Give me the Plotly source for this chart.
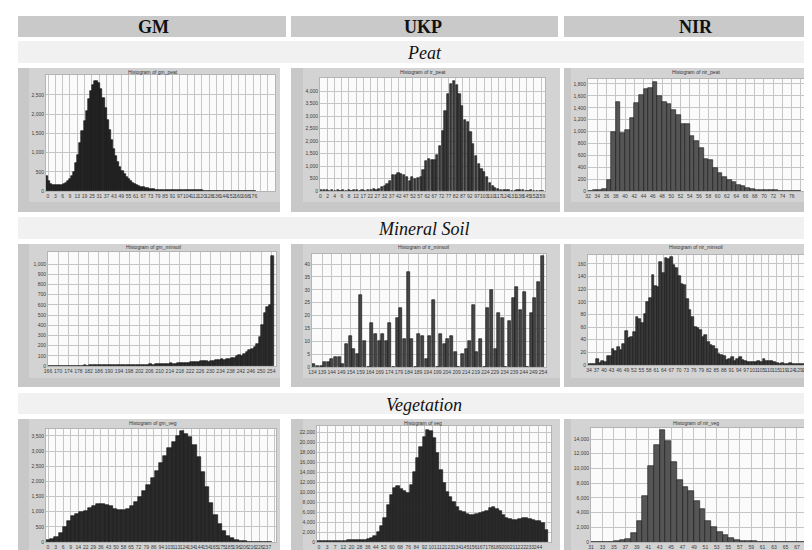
import numpy as np
import plotly.graph_objects as go

W, H = 812, 550

# ---------------- data ----------------
column_titles = ["GM", "UKP", "NIR"]
section_titles = ["Peat", "Mineral Soil", "Vegetation"]

chart_titles = [
    "Histogram of gm_peat", "Histogram of tr_peat", "Histogram of nir_peat",
    "Histogram of gm_minsoil", "Histogram of tr_minsoil", "Histogram of nir_minsoil",
    "Histogram of gm_veg", "Histogram of veg", "Histogram of nir_veg",
]

# GM / Peat
gm_peat_counts = [390, 260, 190, 160, 150, 145, 150, 165, 190, 220,
                  260, 310, 390, 490, 720, 950, 1250, 1550, 1820, 2080,
                  2400, 2600, 2750, 2870, 2860, 2800, 2650, 2420, 2150, 1850,
                  1580, 1320, 1100, 900, 760, 620, 520, 440, 370, 310,
                  260, 220, 190, 160, 135, 115, 95, 80, 68, 58,
                  50, 44, 39, 35, 32, 30, 28, 26, 25, 24,
                  23, 22, 21, 20, 19, 19, 18, 18, 17, 16,
                  16, 15, 15, 14, 14, 13, 13, 12, 12, 12,
                  11, 11, 11, 10, 10, 10, 10, 9, 9, 9,
                  9, 9, 8, 8, 8, 8, 8, 8, 7, 7]
gm_peat_xlabels = ["0", "3", "6", "9", "13", "19", "25", "31", "37", "43", "49", "55", "61", "67",
                   "73", "79", "85", "91", "97", "104", "112", "120", "128", "136", "144", "152",
                   "160", "168", "176"]
gm_peat_yticks = [0, 500, 1000, 1500, 2000, 2500]

# UKP / Peat
ukp_peat_counts = [30, 30, 30, 20, 30, 20, 30, 20, 30, 20,
                   30, 20, 30, 30, 20, 30, 20, 40, 60, 80,
                   60, 100, 150, 220, 280, 420, 630, 650, 720, 700,
                   640, 580, 420, 560, 480, 520, 550, 850, 1200, 1300,
                   1250, 1230, 1450, 1820, 2400, 3200, 3900, 4300, 4400, 4250,
                   3900, 3400, 2850, 2750, 2350, 1900, 1400, 1100, 900, 750,
                   550, 330, 200, 120, 70, 60, 40, 40, 30, 20,
                   20, 40, 50, 30, 20, 20, 30, 20, 20, 20,
                   20]
ukp_peat_xlabels = ["0", "2", "4", "6", "8", "12", "17", "22", "27", "32", "37", "42", "47", "52",
                    "57", "62", "67", "72", "77", "82", "87", "92", "97", "103", "110", "117",
                    "124", "131", "138", "145", "152", "159"]
ukp_peat_yticks = [0, 500, 1000, 1500, 2000, 2500, 3000, 3500, 4000]

# NIR / Peat  (bins 32..77)
nir_peat_bins = list(range(32, 78))
nir_peat_counts = [5, 10, 10, 30, 180, 1000, 1500, 970, 1030, 1220,
                   1480, 1610, 1720, 1740, 1840, 1600, 1500, 1470, 1370, 1280,
                   1120, 1130, 920, 840, 730, 540, 520, 380, 300, 230,
                   180, 150, 100, 90, 50, 30, 20, 20, 15, 10,
                   10, 5, 5, 5, 5, 5]
nir_peat_xlabels = ["32", "34", "36", "38", "40", "42", "44", "46", "48", "50", "52", "54",
                    "56", "58", "60", "62", "64", "66", "68", "70", "72", "74", "76"]
nir_peat_yticks = [0, 200, 400, 600, 800, 1000, 1200, 1400, 1600, 1800]

# GM / Mineral soil (bins 166..254)
gm_min_bins = list(range(166, 255))
gm_min_counts = [2, 2, 3, 2, 3, 2, 3, 3, 2, 3,
                 3, 4, 3, 4, 5, 4, 5, 5, 6, 5,
                 12, 10, 8, 6, 6, 7, 8, 7, 8, 9,
                 9, 10, 11, 10, 12, 11, 13, 12, 14, 13,
                 15, 14, 16, 18, 17, 19, 20, 22, 25, 21,
                 23, 25, 27, 30, 28, 32, 35, 38, 36, 40,
                 45, 50, 48, 42, 45, 50, 55, 60, 65, 62,
                 68, 72, 75, 80, 95, 110, 100, 120, 140, 160,
                 170, 190, 220, 280, 400, 520, 580, 600, 1080]
gm_min_xlabels = ["166", "170", "174", "178", "182", "186", "190", "194", "198", "202", "206",
                  "210", "214", "218", "222", "226", "230", "234", "238", "242", "246", "250",
                  "254"]
gm_min_yticks = [0, 100, 200, 300, 400, 500, 600, 700, 800, 900, 1000]

# UKP / Mineral soil
ukp_min_counts = [1, 0.3, 0.3, 2, 2, 3, 4, 4, 1, 9,
                  12, 7, 5, 28, 10, 0, 17, 13, 10, 13,
                  10, 17, 0, 19, 23, 11, 37, 11, 0, 13,
                  12, 3, 12, 26, 0, 13, 9, 11, 12, 6,
                  0, 5, 7, 10, 24, 6, 11, 0, 23, 30,
                  7, 21, 19, 0, 18, 27, 31, 22, 29, 0,
                  21, 27, 33, 43]
ukp_min_xlabels = ["134", "139", "144", "149", "154", "159", "164", "169", "174", "179", "184",
                   "189", "194", "199", "204", "209", "214", "219", "224", "229", "234", "239",
                   "244", "249", "254"]
ukp_min_yticks = [0, 5, 10, 15, 20, 25, 30, 35, 40]

# NIR / Mineral soil
nir_min_counts = [2, 2, 2, 10, 3, 6, 5, 15, 14, 26,
                  22, 28, 23, 33, 54, 43, 45, 52, 76, 72,
                  66, 80, 100, 106, 142, 125, 124, 163, 145, 170,
                  168, 171, 158, 153, 141, 128, 127, 105, 87, 76,
                  60, 58, 55, 44, 47, 36, 32, 30, 25, 18,
                  16, 15, 8, 9, 12, 6, 10, 12, 8, 7,
                  5, 4, 4, 4, 7, 5, 9, 6, 7, 6,
                  4, 3, 2, 3, 2, 2, 3, 2, 1, 2,
                  1, 2, 1, 1, 3]
nir_min_xlabels = ["34", "37", "40", "43", "46", "49", "52", "55", "58", "61", "64", "67", "70",
                   "73", "76", "79", "82", "85", "88", "91", "94", "97", "101", "105", "110",
                   "115", "119", "124", "129", "134"]
nir_min_yticks = [0, 20, 40, 60, 80, 100, 120, 140, 160]

# GM / Vegetation
gm_veg_counts = [60, 90, 150, 300, 480, 700, 850, 920, 980, 1030,
                 1120, 1180, 1260, 1270, 1230, 1180, 1100, 1060, 1050, 1100,
                 1200, 1330, 1500, 1700, 1880, 2100, 2350, 2600, 2850, 3100,
                 3300, 3500, 3650, 3550, 3450, 3200, 2800, 2300, 1800, 1300,
                 900, 600, 350, 200, 120, 70, 40, 25, 15, 10,
                 8, 6, 5, 5]
gm_veg_xlabels = ["0", "3", "6", "9", "14", "22", "29", "36", "43", "50", "58", "65", "72", "79",
                  "86", "94", "103", "113", "124", "134", "144", "154", "165", "175", "185",
                  "196", "206", "216", "226", "237"]
gm_veg_yticks = [0, 500, 1000, 1500, 2000, 2500, 3000, 3500]

# UKP / Vegetation
ukp_veg_counts = [300, 300, 300, 300, 300, 300, 300, 300, 300, 350,
                  400, 450, 400, 450, 500, 600, 800, 1200, 2000, 3200,
                  4800, 7500, 9500, 10800, 11200, 10600, 10300, 9800, 11500, 14000,
                  16800, 19000, 21000, 22500, 22200, 20800, 17800, 14500, 11800, 10000,
                  9000, 8000, 7000, 6300, 6000, 5700, 5400, 5400, 5600, 5900,
                  6000, 6300, 6800, 7000, 6700, 6200, 5500, 4800, 4600, 4500,
                  4500, 4700, 4900, 4900, 4700, 4400, 4200, 4300, 3800, 2500]
ukp_veg_xlabels = ["0", "3", "7", "12", "20", "28", "36", "44", "52", "60", "68", "76", "84",
                   "92", "101", "112", "123", "134", "145", "156", "167", "178", "189", "200",
                   "211", "222", "233", "244"]
ukp_veg_yticks = [0, 2000, 4000, 6000, 8000, 10000, 12000, 14000, 16000, 18000, 20000, 22000]

# NIR / Vegetation (bins 31..68)
nir_veg_bins = list(range(31, 69))
nir_veg_counts = [20, 20, 30, 40, 80, 230, 450, 1220, 2900, 6200,
                  10300, 13200, 15200, 13700, 10900, 8400, 7500, 7000, 5600, 4500,
                  2800, 2100, 1350, 900, 600, 300, 200, 120, 80, 50,
                  40, 30, 25, 20, 20, 15, 15, 10]
nir_veg_xlabels = ["31", "33", "35", "37", "39", "41", "43", "45", "47", "49", "51", "53", "55",
                   "57", "59", "61", "63", "65", "67", "69"]
nir_veg_yticks = [0, 2000, 4000, 6000, 8000, 10000, 12000, 14000]

# ---------------- layout geometry (pixels) ----------------
col_cells = [(10, 272), (283, 552), (556, 812)]
col_frames = [(21, 272), (295, 552), (563, 812)]
col_headers = [(10, 278), (283, 550), (556, 812)]
row_cells = [(60, 204), (236, 379), (411, 550)]
row_frames = [(60, 194), (236, 370), (411, 545)]
section_rows = [(33, 55), (209, 231), (385, 406)]
title_cx = [145, 415, 688]

charts = [
    dict(counts=gm_peat_counts, xl=gm_peat_xlabels, yt=gm_peat_yticks, ymax=3020,
         L=38, R=267, T=67, B=183, bL=37.7, bR=248, tL=40, tR=245,
         fill="#262626", line="#0d0d0d", bw=1.0),
    dict(counts=ukp_peat_counts, xl=ukp_peat_xlabels, yt=ukp_peat_yticks, ymax=4520,
         L=312, R=537, T=70, B=183, bL=311.7, bR=535.8, tL=312.5, tR=533,
         fill="#3a3a3a", line="#111111", bw=0.8),
    dict(counts=nir_peat_counts, bins=nir_peat_bins, xl=nir_peat_xlabels, yt=nir_peat_yticks,
         ymax=1884, L=580, R=808, T=71, B=183, bL=580, w=4.63, step=2,
         fill="#555555", line="#151515", bw=1.0),
    dict(counts=gm_min_counts, bins=gm_min_bins, xl=gm_min_xlabels, yt=gm_min_yticks,
         ymax=1118, L=40, R=268, T=244, B=358, bL=40, w=2.537, step=4,
         fill="#2e2e2e", line="#111111", bw=1.0),
    dict(counts=ukp_min_counts, xl=ukp_min_xlabels, yt=ukp_min_yticks, ymax=43.9,
         L=304, R=538, T=246, B=359, bL=304, bR=536, tL=304.5, tR=535,
         fill="#444444", line="#111111", bw=0.8),
    dict(counts=nir_min_counts, xl=nir_min_xlabels, yt=nir_min_yticks, ymax=174,
         L=580, R=807, T=247, B=357, bL=580, bR=805, tL=581, tR=798,
         fill="#3a3a3a", line="#111111", bw=1.0),
    dict(counts=gm_veg_counts, xl=gm_veg_xlabels, yt=gm_veg_yticks, ymax=3730,
         L=38, R=268, T=421, B=534, bL=38, bR=264, tL=40, tR=259,
         fill="#2a2a2a", line="#111111", bw=1.0),
    dict(counts=ukp_veg_counts, xl=ukp_veg_xlabels, yt=ukp_veg_yticks, ymax=23200,
         L=309, R=543, T=418, B=534, bL=309.3, bR=540, tL=311, tR=530,
         fill="#2a2a2a", line="#151515", bw=1.0),
    dict(counts=nir_veg_counts, bins=nir_veg_bins, xl=nir_veg_xlabels, yt=nir_veg_yticks,
         ymax=15500, L=583, R=809, T=420, B=534, bL=583, w=5.72, step=2,
         fill="#555555", line="#151515", bw=1.0),
]

fig = go.Figure()
shapes = []
annotations = []

def px(x):
    return x / W

def py(y):
    return 1 - y / H

def rect(x0, x1, y0, y1, color):
    shapes.append(dict(type="rect", xref="paper", yref="paper", x0=px(x0), x1=px(x1),
                       y0=py(y1), y1=py(y0), fillcolor=color, line=dict(width=0),
                       layer="below"))

# table backgrounds
for (hx0, hx1) in col_headers:
    rect(hx0, hx1, 8, 29, "#c9c9c9")
for (sy0, sy1) in section_rows:
    rect(10, 812, sy0, sy1, "#f1f1f1")
for (ry0, ry1), (fy0, fy1) in zip(row_cells, row_frames):
    for (cx0, cx1), (fx0, fx1) in zip(col_cells, col_frames):
        rect(cx0, cx1, ry0, ry1, "#c8c8c8")
        rect(fx0, fx1, fy0, fy1, "#d3d3d3")

serif = "Liberation Serif, Times New Roman, serif"
for name, cx in zip(column_titles, title_cx):
    annotations.append(dict(text="<b>%s</b>" % name, x=px(cx), y=py(19.5), xref="paper",
                            yref="paper", showarrow=False, xanchor="center", yanchor="middle",
                            font=dict(family=serif, size=18, color="#111")))
for name, (sy0, sy1) in zip(section_titles, section_rows):
    annotations.append(dict(text="<i>%s</i>" % name, x=px(416), y=py((sy0 + sy1) / 2 + 1),
                            xref="paper", yref="paper", showarrow=False, xanchor="center",
                            yanchor="middle", font=dict(family=serif, size=18, color="#111")))

tickfont = dict(family="Liberation Sans, Arial, sans-serif", size=5, color="#3c3c3c")

for k, c in enumerate(charts):
    idx = k + 1
    sfx = "" if idx == 1 else str(idx)
    n = len(c["counts"])
    if "bins" in c:
        w = c["w"]
        x = c["bins"]
        x0 = c["bins"][0] - (c["bL"] - c["L"]) / w
        x1 = c["bins"][0] + (c["R"] - c["bL"]) / w
        tv = [float(v) for v in c["xl"]]
        step = c["step"]
        offset = 0
    else:
        w = (c["bR"] - c["bL"]) / n
        def p2d(p, c=c, w=w):
            return (p - c["bL"]) / w - 0.5
        x = list(range(n))
        x0, x1 = p2d(c["L"]), p2d(c["R"])
        tv = list(np.linspace(p2d(c["tL"]), p2d(c["tR"]), len(c["xl"])))
        step = tv[1] - tv[0]
        offset = -c["bw"] / 2
    tt = list(c["xl"])
    while tv[-1] + step < x1:
        tv.append(tv[-1] + step)
        tt.append("")

    fig.add_trace(go.Bar(x=x, y=c["counts"], width=c["bw"], offset=offset,
                         marker=dict(color=c["fill"], line=dict(color=c["line"], width=0.6)),
                         xaxis="x" + sfx, yaxis="y" + sfx, hoverinfo="skip"))

    fig.layout["xaxis" + sfx] = dict(
        domain=[px(c["L"]), px(c["R"])], anchor="y" + sfx, range=[x0, x1],
        tickmode="array", tickvals=tv, ticktext=tt, tickangle=0, tickfont=tickfont,
        showgrid=True, gridcolor="#c6c6c6", gridwidth=1, zeroline=False,
        showline=True, mirror=True, linecolor="#b4b4b4", linewidth=1, ticks="",
        fixedrange=True, automargin=False)
    fig.layout["yaxis" + sfx] = dict(
        domain=[py(c["B"]), py(c["T"])], anchor="x" + sfx, range=[0, c["ymax"]],
        tickmode="array", tickvals=c["yt"], ticktext=["{:,}".format(v) for v in c["yt"]],
        tickfont=tickfont, showgrid=True, gridcolor="#c6c6c6", gridwidth=1, zeroline=False,
        showline=True, mirror=True, linecolor="#b4b4b4", linewidth=1, ticks="",
        fixedrange=True, automargin=False)

    # plot area background
    shapes.append(dict(type="rect", xref="x%s domain" % sfx, yref="y%s domain" % sfx,
                       x0=0, x1=1, y0=0, y1=1, fillcolor="#fbfbfb", line=dict(width=0),
                       layer="below"))
    # chart title
    row = k // 3
    col = k % 3
    annotations.append(dict(text=chart_titles[k], x=px(title_cx[col]),
                            y=py(row_frames[row][0] + 3.5), xref="paper", yref="paper",
                            showarrow=False, xanchor="center", yanchor="middle",
                            font=dict(family="Liberation Sans, Arial, sans-serif", size=5,
                                      color="#333")))

fig.update_layout(width=W, height=H, margin=dict(l=0, r=0, t=0, b=0),
                  paper_bgcolor="white", plot_bgcolor="rgba(0,0,0,0)",
                  showlegend=False, barmode="overlay", bargap=0,
                  shapes=shapes, annotations=annotations)

fig.write_html("out.html")
